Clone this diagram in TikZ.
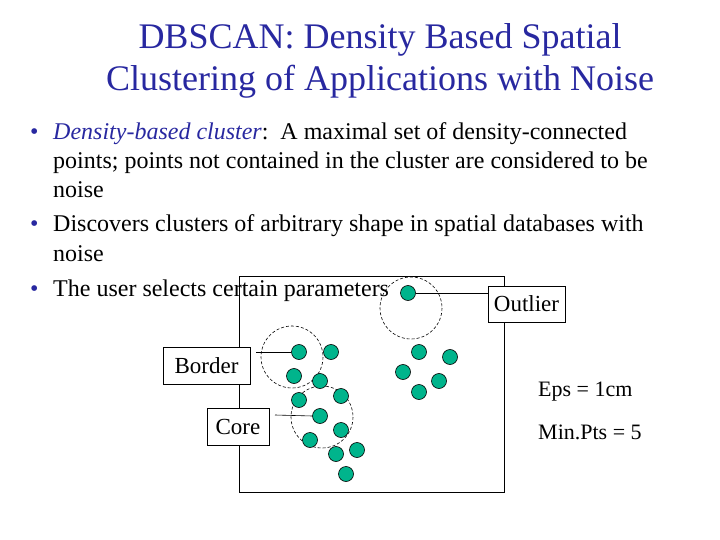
\documentclass[tikz,border=0pt]{standalone}
\usepackage{fontspec}
\setmainfont{Liberation Serif}
\definecolor{dotc}{RGB}{0,180,140}
\definecolor{blu}{RGB}{40,40,160}
\begin{document}
\begin{tikzpicture}[x=1pt,y=-1pt,
  dot/.style={circle,draw=black,fill=dotc,minimum size=15pt,inner sep=0pt,line width=0.6pt},
  lab/.style={draw,fill=white,font=\fontsize{23}{26}\selectfont,inner sep=0pt,line width=0.6pt},
  rng/.style={draw,dash pattern=on 3pt off 2pt,line width=0.6pt},
  txt/.style={anchor=base west,inner sep=0pt,font=\fontsize{24}{27}\selectfont}]
\useasboundingbox (0,0) rectangle (720,540);
\node[anchor=base,font=\fontsize{36}{40}\selectfont,text=blu,inner sep=0] (t1) at (380,49) {DBSCAN: Density Based Spatial};
\node[anchor=base,font=\fontsize{36}{40}\selectfont,text=blu,inner sep=0] (t2) at (380,91) {Clustering of Applications with Noise};
\node[txt,text=blu] (b1) at (30,140) {•};
\node[txt] (l1) at (53,140) {\textcolor{blu}{\itshape Density-based cluster}:\ \ A maximal set of density-connected};
\node[txt] (l2) at (53,169) {points; points not contained in the cluster are considered to be};
\node[txt] (l3) at (53,197) {noise};
\node[txt,text=blu] (b2) at (30,232) {•};
\node[txt] (l4) at (53,232) {Discovers clusters of arbitrary shape in spatial databases with};
\node[txt] (l5) at (53,261) {noise};
\node[txt,text=blu] (b3) at (30,296) {•};
\node[draw,line width=0.6pt,minimum width=265pt,minimum height=216pt,anchor=north west,inner sep=0] (box) at (239,276) {};
\node[txt] (l6) at (53,296) {The user selects certain parameters};
\draw[rng] (411,308) circle (31);
\draw[rng] (292,357) circle (31);
\draw[rng] (322,417) circle (31);
\foreach \n/\x/\y in {o/408/293,d1/299/352,d2/331/352,d3/294/376,d4/320/381,d5/299/400,d6/341/396,c/320/416,d8/341/430,d9/310/440,d10/336/454,d11/357/450,d12/346/474,e1/419/352,e2/450/357,e3/403/372,e4/439/381,e5/419/392}
  \node[dot] (\n) at (\x,\y) {};
\node[lab,minimum width=77pt,minimum height=36pt] (out) at (526.5,304) {Outlier};
\node[lab,minimum width=87pt,minimum height=37pt] (bor) at (206.5,365.5) {Border};
\node[lab,minimum width=62pt,minimum height=37pt] (cor) at (238,426.5) {Core};
\draw[line width=0.6pt] (o.east) -- (out.west |- o.east);
\coordinate (bs) at (256,352);
\draw[line width=0.6pt] (bs) -- (d1.west);
\coordinate (cs) at (275,415);
\draw[line width=0.6pt] (cs) -- (c.west);
\node[txt,font=\fontsize{22}{26}\selectfont] (eps) at (538,396) {Eps = 1cm};
\node[txt,font=\fontsize{22}{26}\selectfont] (mp) at (538,439) {Min.Pts = 5};
\end{tikzpicture}
\end{document}
